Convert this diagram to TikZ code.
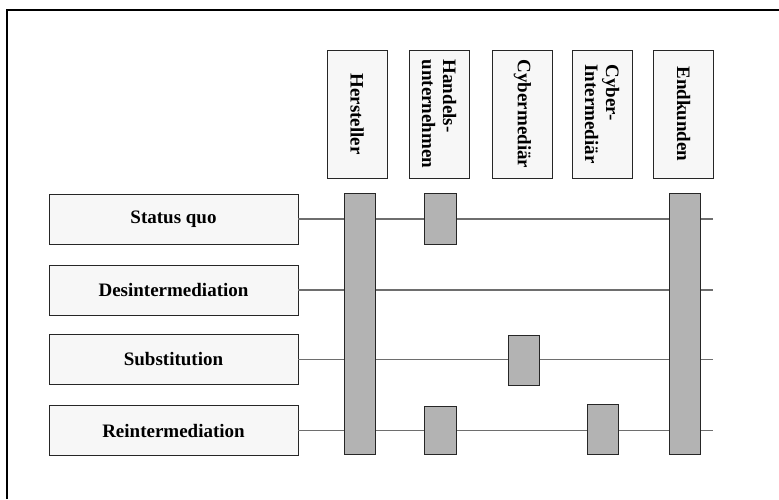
\documentclass[tikz,border=0pt]{standalone}
\usepackage{fontspec}
\setmainfont{Liberation Serif}
\usepackage{tikz}
\usetikzlibrary{positioning,calc}

\definecolor{boxfill}{HTML}{F7F7F7}
\definecolor{barfill}{HTML}{B3B3B3}
\definecolor{linegray}{HTML}{6E6E6E}

\begin{document}
\begin{tikzpicture}[x=1pt,y=-1pt]
                        \tikzstyle{every node}=[rectangle,draw=black!85,inner sep=0,font=\fontsize{19}{21}\selectfont\bfseries]
                        \tikzstyle{actor}=[fill=boxfill,minimum width=60,minimum height=128,rotate=-90,align=left]
                        \tikzstyle{scen}=[fill=boxfill,minimum width=249,minimum height=50]
                        \tikzstyle{bar}=[fill=barfill,minimum width=31]
                        \tikzstyle{flow}=[draw=linegray,line width=1.2pt]
                        \useasboundingbox (0,0) rectangle (779,499);
                        \draw[line width=1.2pt] (7,499) -- (7,10) -- (779,10);
                        {
                            % Akteure oben
                            \node[actor,minimum width=128,minimum height=60] (her) at (357,114) {Hersteller};
                            \node[actor,minimum width=128,minimum height=60] (han) at (439,114) {Handels-\\unternehmen};
                            \node[actor,minimum width=128,minimum height=60] (cym) at (522.5,114) {Cybermediär};
                            \node[actor,minimum width=128,minimum height=60] (cyi) at (602,114) {Cyber-\\Intermediär};
                            \node[actor,minimum width=128,minimum height=60] (end) at (683.5,114) {Endkunden};

                            % Szenarien links
                            \node[scen] (sq) at (173.5,219) {Status quo};
                            \node[scen] (des) at (173.5,290) {Desintermediation};
                            \node[scen] (sub) at (173.5,359.5) {Substitution};
                            \node[scen] (rei) at (173.5,430.5) {Reintermediation};
                            \coordinate (sqEnd) at (713,219);
                            \coordinate (desEnd) at (713,290);
                            \coordinate (subEnd) at (713,359.5);
                            \coordinate (reiEnd) at (713,430.5);
                            \path[flow]
                                (sq) edge (sqEnd)
                                (des) edge (desEnd)
                                (sub) edge (subEnd)
                                (rei) edge (reiEnd);

                            % Balken
                            \node[bar,minimum height=261] (herBar) at (359.5,323.5) {};
                            \node[bar,minimum height=261] (endBar) at (684.5,323.5) {};
                            \node[bar,minimum width=32,minimum height=51] (sqHan) at (440,218.5) {};
                            \node[bar,minimum height=50] (subCym) at (523.5,360) {};
                            \node[bar,minimum width=32,minimum height=48] (reiHan) at (440,430) {};
                            \node[bar,minimum height=50] (reiCyi) at (602.5,429) {};
                        }
\end{tikzpicture}
\end{document}
